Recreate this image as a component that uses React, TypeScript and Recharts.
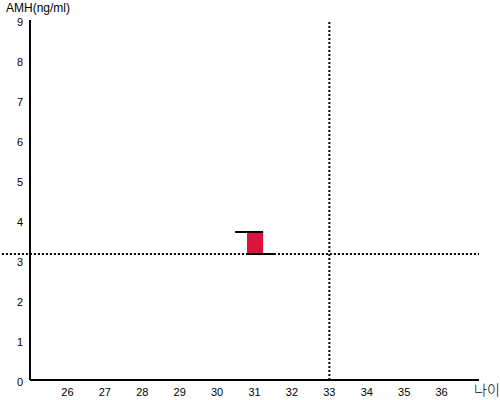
import React from "react";
import {
  ComposedChart,
  XAxis,
  YAxis,
  ReferenceLine,
  ReferenceArea,
} from "recharts";

// x-axis: age
const ageTicks = [26, 27, 28, 29, 30, 31, 32, 33, 34, 35, 36];
const ageDomain = [25, 37];
// y-axis: AMH (ng/ml)
const amhTicks = [0, 1, 2, 3, 4, 5, 6, 7, 8, 9];
const amhDomain = [0, 9];

// measured box: age 31, AMH range
const boxAge = [30.8, 31.23];
const boxAmh = [3.15, 3.7];
// caps above / below the box
const topCapAge = [30.48, 31.23];
const bottomCapAge = [30.78, 31.55];

// reference cross-hair
const refAge = 33;
const refAmh = 3.15;
const refLineStartAge = 24.25;

const dotted = { stroke: "#000", strokeWidth: 2, strokeDasharray: "2 2" };

const XTick = (props: any) => {
  const { x, y, payload } = props;
  return (
    <text x={x} y={y + 14} textAnchor="middle" fontSize={11} fill="#000">
      {payload.value}
    </text>
  );
};

const YTick = (props: any) => {
  const { x, y, payload } = props;
  return (
    <text x={x + 1} y={y + 6} textAnchor="end" fontSize={11} fill="#000">
      {payload.value}
    </text>
  );
};

export default function App() {
  return (
    <div
      style={{
        position: "absolute",
        left: 0,
        top: 0,
        width: 500,
        height: 400,
        background: "#fff",
        fontFamily: "Arial, 'Liberation Sans', sans-serif",
      }}
    >
      <ComposedChart
        width={500}
        height={400}
        data={[]}
        margin={{ top: 20, right: 21, bottom: 0, left: 0 }}
      >
        <XAxis
          type="number"
          dataKey="age"
          domain={ageDomain}
          ticks={ageTicks}
          tickLine={false}
          tickSize={0}
          axisLine={{ stroke: "#000", strokeWidth: 2 }}
          tick={<XTick />}
          height={20}
          allowDataOverflow
        />
        <YAxis
          type="number"
          domain={amhDomain}
          ticks={amhTicks}
          tickLine={false}
          axisLine={{ stroke: "#000", strokeWidth: 2 }}
          tick={<YTick />}
          width={30}
          allowDataOverflow
        />
        <ReferenceLine x={refAge} {...dotted} ifOverflow="visible" />
        <ReferenceLine
          segment={[
            { x: refLineStartAge, y: refAmh },
            { x: ageDomain[1], y: refAmh },
          ]}
          {...dotted}
          ifOverflow="visible"
        />
        <ReferenceArea
          x1={boxAge[0]}
          x2={boxAge[1]}
          y1={boxAmh[0]}
          y2={boxAmh[1]}
          fill="#DC143C"
          fillOpacity={1}
          stroke="none"
        />
        <ReferenceLine
          segment={[
            { x: topCapAge[0], y: boxAmh[1] },
            { x: topCapAge[1], y: boxAmh[1] },
          ]}
          stroke="#000"
          strokeWidth={2}
        />
        <ReferenceLine
          segment={[
            { x: bottomCapAge[0], y: boxAmh[0] },
            { x: bottomCapAge[1], y: boxAmh[0] },
          ]}
          stroke="#000"
          strokeWidth={2}
        />
      </ComposedChart>
      <div
        style={{
          position: "absolute",
          left: 6,
          top: 2,
          fontSize: 12,
          lineHeight: "13px",
          color: "#000",
          whiteSpace: "nowrap",
        }}
      >
        AMH(ng/ml)
      </div>
      <div
        style={{
          position: "absolute",
          left: 474,
          top: 381,
          fontSize: 14,
          color: "#000",
          fontFamily: "'Noto Sans CJK KR', sans-serif",
          fontWeight: 300,
          lineHeight: "16px",
          whiteSpace: "nowrap",
        }}
      >
        나이
      </div>
    </div>
  );
}
